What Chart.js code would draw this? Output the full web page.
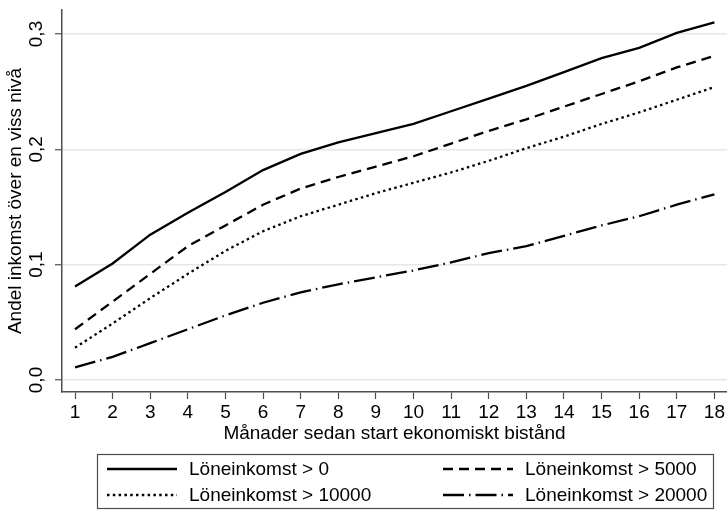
<!DOCTYPE html>
<html>
<head>
<meta charset="utf-8">
<title>Löneinkomst efter månader</title>
<script src="https://cdn.jsdelivr.net/npm/chart.js@4/dist/chart.umd.min.js"></script>
<style>
  html, body { margin: 0; padding: 0; background: #fff; }
  #wrap { width: 727px; height: 510px; position: relative; }
</style>
</head>
<body>
<div id="wrap"><canvas id="incomeChart"></canvas></div>
<script>
// months since start of benefits
const months = [1, 2, 3, 4, 5, 6, 7, 8, 9, 10, 11, 12, 13, 14, 15, 16, 17, 18];
const yTicks = [0, 0.1, 0.2, 0.3];

const seriesLabels = ['Löneinkomst > 0', 'Löneinkomst > 5000', 'Löneinkomst > 10000', 'Löneinkomst > 20000'];
const over0     = [0.081, 0.101, 0.126, 0.145, 0.163, 0.182, 0.196, 0.206, 0.214, 0.222, 0.233, 0.244, 0.255, 0.267, 0.279, 0.288, 0.301, 0.310];
const over5000  = [0.044, 0.068, 0.092, 0.116, 0.134, 0.152, 0.166, 0.176, 0.185, 0.194, 0.205, 0.216, 0.226, 0.237, 0.248, 0.259, 0.271, 0.281];
const over10000 = [0.028, 0.049, 0.071, 0.092, 0.112, 0.129, 0.142, 0.152, 0.162, 0.171, 0.180, 0.190, 0.201, 0.211, 0.222, 0.232, 0.243, 0.254];
const over20000 = [0.011, 0.020, 0.032, 0.044, 0.056, 0.067, 0.076, 0.083, 0.089, 0.095, 0.102, 0.110, 0.116, 0.125, 0.134, 0.142, 0.152, 0.161];

const FONT = 'Liberation Sans, Arial, sans-serif';
const FONT_SIZE = 19;
const AXIS_GREY = '#4d4d4d';

function makeSeries(label, values, dash) {
    return {
        label: label,
        data: months.map((m, i) => ({ x: m, y: values[i] })),
        borderColor: '#000',
        backgroundColor: '#000',
        borderWidth: 2.3,
        borderDash: dash,
        borderCapStyle: 'butt',
        pointRadius: 0,
        tension: 0,
        fill: false
    };
}

// two-column boxed legend under the x axis title
const boxLegend = {
    id: 'boxLegend',
    afterDraw(chart) {
        const ctx = chart.ctx;
        const box = { x: 97.5, y: 454.5, w: 616, h: 54 };
        ctx.save();
        ctx.strokeStyle = AXIS_GREY;
        ctx.lineWidth = 1.2;
        ctx.strokeRect(box.x, box.y, box.w, box.h);

        const cols = [{ key: 107, text: 189 }, { key: 443, text: 525 }];
        const rows = [469, 495];
        const keyLen = 70;
        ctx.font = FONT_SIZE + 'px ' + FONT;
        ctx.fillStyle = '#000';
        ctx.textBaseline = 'middle';
        chart.data.datasets.forEach((ds, i) => {
            const c = cols[i % 2], r = rows[Math.floor(i / 2)];
            ctx.beginPath();
            ctx.setLineDash(ds.borderDash || []);
            ctx.lineWidth = ds.borderWidth;
            ctx.strokeStyle = ds.borderColor;
            ctx.moveTo(c.key, r);
            ctx.lineTo(c.key + keyLen, r);
            ctx.stroke();
            ctx.setLineDash([]);
            ctx.fillText(ds.label, c.text, r + 1);
        });
        ctx.restore();
    }
};

const chart = new Chart(document.getElementById('incomeChart'), {
    type: 'line',
    data: {
        datasets: [
            makeSeries(seriesLabels[0], over0, []),
            makeSeries(seriesLabels[1], over5000, [10, 6]),
            makeSeries(seriesLabels[2], over10000, [2.5, 3.3]),
            makeSeries(seriesLabels[3], over20000, [21, 5, 1.5, 5])
        ]
    },
    options: {
        responsive: true,
        maintainAspectRatio: false,
        animation: false,
        layout: { padding: { top: 10, right: 0, left: 0, bottom: 61 } },
        plugins: { legend: { display: false }, tooltip: { enabled: false } },
        scales: {
            x: {
                type: 'linear',
                min: 0.654,
                max: 18.335,
                afterBuildTicks: s => { s.ticks = months.map(v => ({ value: v })); },
                afterFit: s => { s.height = 57; s.paddingLeft = 0; s.paddingRight = 0; },
                ticks: {
                    autoSkip: false, maxRotation: 0, padding: 2, color: '#000',
                    font: { family: FONT, size: FONT_SIZE }
                },
                grid: { drawOnChartArea: false, drawTicks: true, tickLength: 7, tickColor: AXIS_GREY, tickWidth: 1.2 },
                border: { color: AXIS_GREY, width: 1.5 },
                title: {
                    display: true, text: 'Månader sedan start ekonomiskt bistånd', color: '#000',
                    font: { family: FONT, size: FONT_SIZE }, padding: { top: 0, bottom: 4 }
                }
            },
            y: {
                min: -0.0104,
                max: 0.3208,
                afterBuildTicks: s => { s.ticks = yTicks.map(v => ({ value: v })); },
                afterFit: s => { s.width = 62; s.paddingTop = 0; s.paddingBottom = 0; },
                ticks: {
                    minRotation: 90, maxRotation: 90, crossAlign: 'center', padding: 5, color: '#000',
                    font: { family: FONT, size: FONT_SIZE },
                    callback: v => v.toFixed(1).replace('.', ',')
                },
                grid: { color: '#e6e6e6', lineWidth: 1.5, tickLength: 7, tickColor: AXIS_GREY, tickWidth: 1.2 },
                border: { color: AXIS_GREY, width: 1.5 },
                title: {
                    display: true, text: 'Andel inkomst över en viss nivå', color: '#000',
                    font: { family: FONT, size: FONT_SIZE }, padding: { top: 4, bottom: 0 }
                }
            }
        }
    },
    plugins: [boxLegend]
});
</script>
</body>
</html>
